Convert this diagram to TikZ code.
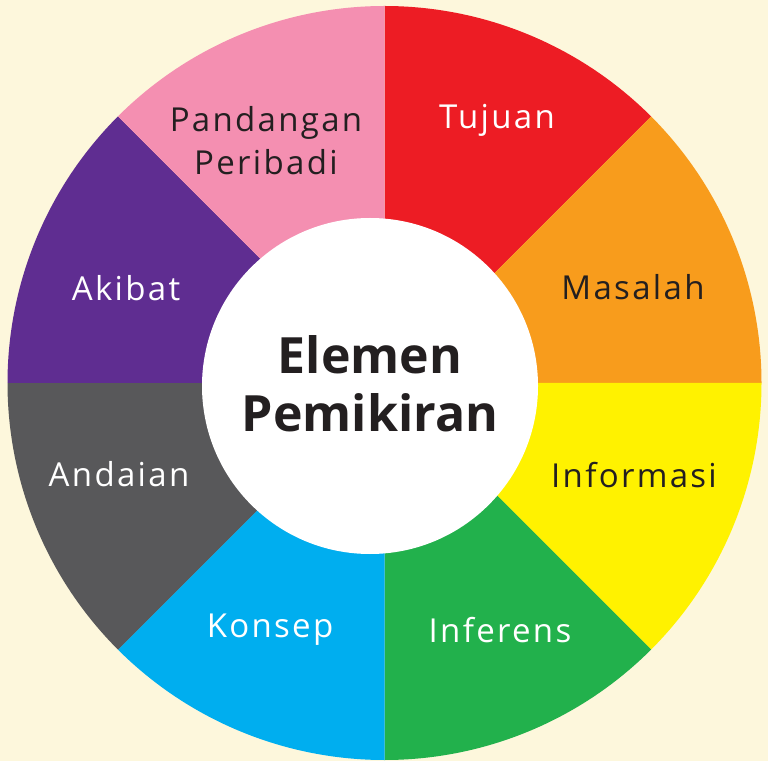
\documentclass[tikz,border=0pt]{standalone}
\usepackage{fontspec}
\setmainfont{Open Sans}
\newfontfamily\lblfont[LetterSpace=7]{Open Sans}
\definecolor{bgcream}{HTML}{FDF7DC}
\definecolor{cred}{HTML}{ED1C24}
\definecolor{corange}{HTML}{F89C1C}
\definecolor{cyellow}{HTML}{FFF200}
\definecolor{cgreen}{HTML}{22B14C}
\definecolor{cblue}{HTML}{00AEEF}
\definecolor{cgray}{HTML}{58585A}
\definecolor{cpurple}{HTML}{5F2D91}
\definecolor{cpink}{HTML}{F48FB1}
\definecolor{darktext}{HTML}{231F20}
\tikzset{
  lbl/.style={font=\lblfont\fontsize{33}{43}\selectfont, align=center, inner sep=0pt},
  lightlbl/.style={lbl, text=white},
  darklbl/.style={lbl, text=darktext},
}
\begin{document}
\begin{tikzpicture}[x=1pt,y=1pt]
\fill[bgcream] (0,0) rectangle (768,761);
\useasboundingbox (0,0) rectangle (768,761);
\coordinate (oc) at (384.5,378);
\def\R{377}
\foreach \a/\c in {45/cred,0/corange,-45/cyellow,-90/cgreen,-135/cblue,180/cgray,135/cpurple,90/cpink}{
  \fill[\c] (oc) -- ++(\a:\R) arc[start angle=\a, end angle=\a+45, radius=\R] -- cycle;
}
\fill[white] (370,375) circle[radius=168];
\node[lightlbl] (tujuan) at (497,641) {Tujuan};
\node[darklbl] (pandangan) at (266,620) {Pandangan\\Peribadi};
\node[darklbl] (masalah) at (633,474) {Masalah};
\node[lightlbl] (akibat) at (126,473) {Akibat};
\node[darklbl] (informasi) at (634,286) {Informasi};
\node[lightlbl] (andaian) at (119,287) {Andaian};
\node[lightlbl] (konsep) at (270,131) {Konsep};
\node[lightlbl] (inferens) at (500,131) {Inferens};
\node[font=\bfseries\fontsize{50}{58}\selectfont, align=center, text=darktext, inner sep=0pt] (center) at (370,377) {Elemen\\Pemikiran};
\end{tikzpicture}
\end{document}
